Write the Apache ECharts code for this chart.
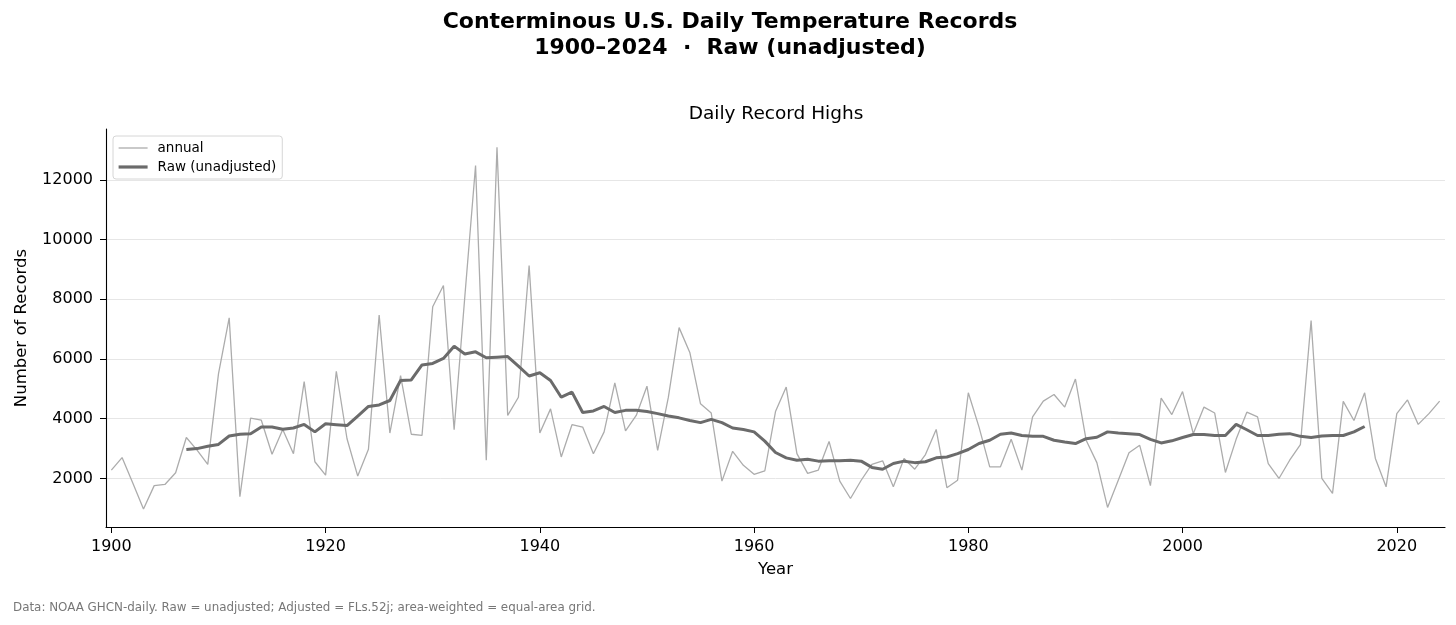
<!DOCTYPE html>
<html>
<head>
<meta charset="utf-8">
<script src="https://cdn.jsdelivr.net/npm/echarts@6/dist/echarts.min.js"></script>
<style>
html,body{margin:0;padding:0;background:#fff;}
#c{width:1456px;height:625px;}
</style>
</head>
<body>
<div id="c"></div>
<script>
const startYear = 1900;
const annual = [
  2280, 2700, 1850, 980, 1760, 1800, 2190, 3370, 2950, 2470,
  5500, 7380, 1390, 4020, 3950, 2810, 3640, 2830, 5240, 2560,
  2110, 5590, 3330, 2080, 2980, 7470, 3520, 5440, 3480, 3440,
  7750, 8460, 3630, 8100, 12480, 2610, 13090, 4110, 4720, 9130,
  3520, 4330, 2720, 3800, 3720, 2830, 3560, 5200, 3590, 4110,
  5090, 2940, 4720, 7050, 6220, 4500, 4190, 1910, 2910, 2440,
  2140, 2250, 4240, 5060, 2830, 2170, 2280, 3240, 1910, 1330,
  1940, 2470, 2590, 1720, 2670, 2310, 2800, 3640, 1690, 1940,
  4870, 3720, 2390, 2390, 3310, 2280, 4060, 4590, 4810, 4390,
  5330, 3280, 2530, 1030, 1940, 2860, 3110, 1760, 4690, 4140,
  4910, 3500, 4390, 4190, 2200, 3310, 4220, 4060, 2500, 2000,
  2610, 3130, 7290, 2000, 1500, 4580, 3940, 4870, 2670, 1720,
  4170, 4630, 3810, 4170, 4590
];
const maStartYear = 1907;
const rawMA = [
  2970, 3000, 3080,
  3140, 3420, 3480, 3500, 3720, 3720, 3650, 3690, 3810, 3560,
  3830, 3800, 3770, 4090, 4410, 4460, 4610, 5280, 5300, 5800,
  5850, 6020, 6430, 6170, 6240, 6040, 6060, 6080, 5760, 5430,
  5540, 5280, 4720, 4890, 4210, 4260, 4410, 4210, 4280, 4280,
  4240, 4170, 4090, 4030, 3940, 3870, 3980, 3870, 3690, 3640,
  3560, 3250, 2870, 2690, 2610, 2640, 2580, 2590, 2590, 2610,
  2580, 2370, 2310, 2500, 2580, 2530, 2560, 2690, 2720, 2830,
  2970, 3170, 3280, 3480, 3520, 3440, 3410, 3410, 3280, 3220,
  3170, 3330, 3380, 3560, 3520, 3500, 3470, 3310, 3190, 3260,
  3370, 3470, 3470, 3440, 3440, 3810, 3630, 3440, 3440, 3480,
  3500, 3410, 3370, 3420, 3440, 3440, 3560, 3740
];
const xTicks = [1900, 1920, 1940, 1960, 1980, 2000, 2020];
const yTicks = [2000, 4000, 6000, 8000, 10000, 12000];

const annualData = annual.map((v, i) => [startYear + i, v]);
const maData = rawMA.map((v, i) => [maStartYear + i, v]);

const FONT = 'DejaVu Sans';
const chart = echarts.init(document.getElementById('c'), null, {renderer: 'canvas'});
chart.setOption({
  animation: false,
  backgroundColor: '#ffffff',
  textStyle: {fontFamily: FONT},
  title: [
    {
      text: 'Conterminous U.S. Daily Temperature Records\n1900\u20132024  \u00b7  Raw (unadjusted)',
      left: 725, top: 4, textAlign: 'center',
      textStyle: {fontFamily: FONT, fontSize: 22, fontWeight: 'bold', color: '#000', lineHeight: 26, align: 'center'}
    },
    {
      text: 'Daily Record Highs',
      left: 771, top: 100, textAlign: 'center',
      textStyle: {fontFamily: FONT, fontSize: 18.5, fontWeight: 'normal', color: '#000'}
    },
    {
      text: 'Data: NOAA GHCN-daily. Raw = unadjusted; Adjusted = FLs.52j; area-weighted = equal-area grid.',
      left: 8, top: 597,
      textStyle: {fontFamily: FONT, fontSize: 11.9, fontWeight: 'normal', color: '#777'}
    }
  ],
  legend: {
    orient: 'vertical',
    left: 113, top: 136,
    backgroundColor: '#fff',
    borderColor: '#d6d6d6', borderWidth: 1, borderRadius: 3,
    padding: [5, 6, 5, 4],
    itemWidth: 29, itemHeight: 14, itemGap: 5,
    itemStyle: {opacity: 0, borderWidth: 0},
    textStyle: {fontFamily: FONT, fontSize: 13.5, color: '#000', padding: [0, 0, 0, 5]},
    data: [
      {name: 'annual', lineStyle: {width: 1.3, color: '#acacac'}},
      {name: 'Raw (unadjusted)', lineStyle: {width: 3.2, color: '#6b6b6b'}}
    ]
  },
  grid: {left: 106, right: 11, top: 129, bottom: 98, containLabel: false},
  xAxis: {
    type: 'value', min: 1899.5, max: 2024.5,
    name: 'Year', nameLocation: 'middle', nameGap: 34,
    nameTextStyle: {fontFamily: FONT, fontSize: 16.5, color: '#000'},
    axisLine: {show: true, onZero: false, lineStyle: {color: '#000', width: 1.1}},
    axisTick: {show: true, length: 6, lineStyle: {color: '#000', width: 1}, customValues: xTicks},
    axisLabel: {fontFamily: FONT, fontSize: 16, color: '#000', margin: 12, customValues: xTicks,
      formatter: v => String(v)},
    splitLine: {show: false}
  },
  yAxis: {
    type: 'value', min: 375, max: 13700,
    name: 'Number of Records', nameLocation: 'middle', nameGap: 76, nameRotate: 90,
    nameTextStyle: {fontFamily: FONT, fontSize: 16.5, color: '#000'},
    axisLine: {show: true, lineStyle: {color: '#000', width: 1.1}},
    axisTick: {show: true, length: 6, lineStyle: {color: '#000', width: 1}, customValues: yTicks},
    axisLabel: {fontFamily: FONT, fontSize: 16, color: '#000', margin: 13, customValues: yTicks,
      formatter: v => String(v)},
    splitLine: {show: true, lineStyle: {color: '#e6e6e6', width: 1}}
  },
  series: [
    {
      name: 'annual', type: 'line', data: annualData,
      symbol: 'none', z: 2,
      lineStyle: {color: '#acacac', width: 1.3},
      itemStyle: {color: '#acacac'}
    },
    {
      name: 'Raw (unadjusted)', type: 'line', data: maData,
      symbol: 'none', z: 3,
      lineStyle: {color: '#6b6b6b', width: 3},
      itemStyle: {color: '#6b6b6b'}
    }
  ]
});
</script>
</body>
</html>
